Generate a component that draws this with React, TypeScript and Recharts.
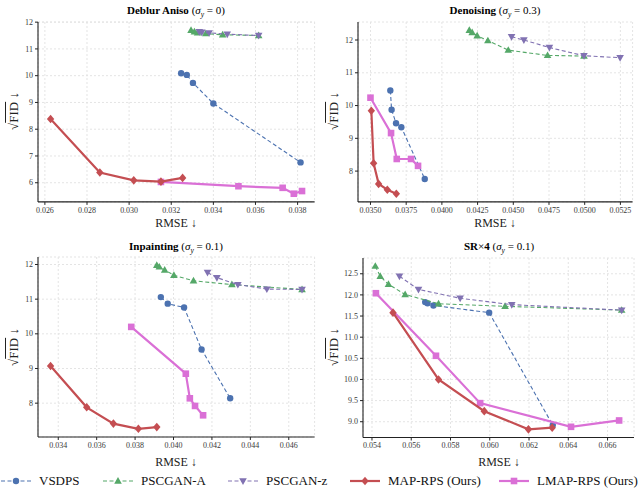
import React from 'react';
import {ScatterChart, Scatter, XAxis, YAxis, CartesianGrid} from 'recharts';

type Pair = [number, number];

// Deblur Aniso (sigma_y = 0)
const deblurVsdps: Pair[] = [[0.03247, 10.09], [0.03274, 10.03], [0.03303, 9.73], [0.0340, 8.96], [0.03814, 6.76]];
const deblurPscganA: Pair[] = [[0.03294, 11.70], [0.03310, 11.64], [0.03325, 11.60], [0.03364, 11.57], [0.03444, 11.53], [0.03615, 11.50]];
const deblurPscganZ: Pair[] = [[0.03333, 11.64], [0.03345, 11.62], [0.0338, 11.60], [0.03466, 11.55], [0.03615, 11.50]];
const deblurMap: Pair[] = [[0.02627, 8.38], [0.02861, 6.38], [0.03022, 6.09], [0.03151, 6.04], [0.03254, 6.18]];
const deblurLmap: Pair[] = [[0.03151, 6.03], [0.03519, 5.87], [0.03729, 5.81], [0.03782, 5.59], [0.03821, 5.69]];

// Denoising (sigma_y = 0.3)
const denoiseVsdps: Pair[] = [[0.03639, 10.46], [0.03648, 9.87], [0.03679, 9.46], [0.03716, 9.34], [0.0388, 7.76]];
const denoisePscganA: Pair[] = [[0.04192, 12.30], [0.04212, 12.23], [0.04247, 12.13], [0.04322, 11.98], [0.04465, 11.69], [0.0474, 11.53], [0.04995, 11.51]];
const denoisePscganZ: Pair[] = [[0.04488, 12.10], [0.04574, 12.00], [0.04753, 11.77], [0.04995, 11.52], [0.05248, 11.46]];
const denoiseMap: Pair[] = [[0.03506, 9.84], [0.03522, 8.24], [0.03557, 7.61], [0.03618, 7.43], [0.03681, 7.31]];
const denoiseLmap: Pair[] = [[0.0350, 10.24], [0.03644, 9.16], [0.03684, 8.37], [0.03784, 8.37], [0.03833, 8.16]];

// Inpainting (sigma_y = 0.1)
const inpaintVsdps: Pair[] = [[0.03934, 11.06], [0.0397, 10.87], [0.04055, 10.76], [0.04146, 9.55], [0.04295, 8.14]];
const inpaintPscganA: Pair[] = [[0.03913, 11.98], [0.03926, 11.93], [0.03954, 11.84], [0.04002, 11.69], [0.04104, 11.53], [0.04304, 11.42], [0.04669, 11.28]];
const inpaintPscganZ: Pair[] = [[0.04177, 11.77], [0.04226, 11.62], [0.04335, 11.42], [0.04486, 11.29], [0.04669, 11.28]];
const inpaintMap: Pair[] = [[0.0336, 9.07], [0.03548, 7.88], [0.03687, 7.41], [0.03817, 7.26], [0.03913, 7.31]];
const inpaintLmap: Pair[] = [[0.0378, 10.20], [0.04064, 8.85], [0.04085, 8.14], [0.04112, 7.92], [0.04154, 7.65]];

// SR x4 (sigma_y = 0.1)
const srVsdps: Pair[] = [[0.05671, 11.83], [0.05683, 11.80], [0.05713, 11.75], [0.05997, 11.58], [0.06321, 8.92]];
const srPscganA: Pair[] = [[0.05417, 12.68], [0.05442, 12.44], [0.05484, 12.25], [0.05569, 12.01], [0.05739, 11.79], [0.06078, 11.73], [0.06672, 11.64]];
const srPscganZ: Pair[] = [[0.0554, 12.44], [0.05637, 12.13], [0.05849, 11.92], [0.06112, 11.77], [0.06672, 11.64]];
const srMap: Pair[] = [[0.05507, 11.58], [0.05739, 10.0], [0.05972, 9.25], [0.06197, 8.82], [0.06318, 8.86]];
const srLmap: Pair[] = [[0.0542, 12.04], [0.05726, 10.56], [0.05951, 9.44], [0.06414, 8.88], [0.06659, 9.03]];

const deblurXTicks = [0.026, 0.028, 0.030, 0.032, 0.034, 0.036, 0.038];
const deblurYTicks = [6, 7, 8, 9, 10, 11, 12];
const denoiseXTicks = [0.035, 0.0375, 0.04, 0.0425, 0.045, 0.0475, 0.05, 0.0525];
const denoiseYTicks = [8, 9, 10, 11, 12];
const inpaintXTicks = [0.034, 0.036, 0.038, 0.04, 0.042, 0.044, 0.046];
const inpaintYTicks = [8, 9, 10, 11, 12];
const srXTicks = [0.054, 0.056, 0.058, 0.06, 0.062, 0.064, 0.066];
const srYTicks = [9, 9.5, 10, 10.5, 11, 11.5, 12, 12.5];

const methods = ['VSDPS', 'PSCGAN-A', 'PSCGAN-z', 'MAP-RPS (Ours)', 'LMAP-RPS (Ours)'];

const FONT = '"Liberation Serif", "DejaVu Serif", serif';
const Y_W = 36;
const X_H = 20;

const styles: Record<string, {color: string; kind: string; width: number; dash?: string}> = {
    'VSDPS': {color: '#4c72b0', kind: 'circle', width: 1.1, dash: '4 2.5'},
    'PSCGAN-A': {color: '#55a868', kind: 'up', width: 1.1, dash: '4 2.5'},
    'PSCGAN-z': {color: '#8172b2', kind: 'down', width: 1.1, dash: '4 2.5'},
    'MAP-RPS (Ours)': {color: '#c44e52', kind: 'diamond', width: 2.2},
    'LMAP-RPS (Ours)': {color: '#da70d6', kind: 'square', width: 2.2},
};

function markerSvg(kind: string, cx: number, cy: number, color: string) {
    switch (kind) {
        case 'circle':
            return <circle cx={cx} cy={cy} r={3.2} fill={color} />;
        case 'up':
            return <polygon points={`${cx},${cy - 4} ${cx - 3.8},${cy + 2.7} ${cx + 3.8},${cy + 2.7}`} fill={color} />;
        case 'down':
            return <polygon points={`${cx},${cy + 4} ${cx - 3.8},${cy - 2.7} ${cx + 3.8},${cy - 2.7}`} fill={color} />;
        case 'diamond':
            return <polygon points={`${cx},${cy - 4.3} ${cx + 3.7},${cy} ${cx},${cy + 4.3} ${cx - 3.7},${cy}`} fill={color} />;
        default:
            return <rect x={cx - 3.3} y={cy - 3.3} width={6.6} height={6.6} fill={color} />;
    }
}

const makeShape = (kind: string, color: string) => (props: any) => {
    const {cx, cy} = props;
    if (cx == null || cy == null) return <g />;
    return markerSvg(kind, cx, cy, color);
};

const xTick = (digits: number) => (props: any) => {
    const {x, y, payload} = props;
    return (
        <text x={x} y={y} dy='0.71em' textAnchor='middle' fontSize={8} fill='#3a3a3a' fontFamily={FONT}>
            {Number(payload.value).toFixed(digits)}
        </text>
    );
};

const yTick = (digits: number) => (props: any) => {
    const {x, y, payload} = props;
    return (
        <text x={x} y={y} dy='0.33em' textAnchor='end' fontSize={8} fill='#3a3a3a' fontFamily={FONT}>
            {Number(payload.value).toFixed(digits)}
        </text>
    );
};

function padded(vals: number[]): [number, number] {
    const lo = Math.min(...vals);
    const hi = Math.max(...vals);
    const m = (hi - lo) * 0.05;
    return [lo - m, hi + m];
}

interface PanelProps {
    left: number;
    top: number;
    w: number;
    h: number;
    series: Pair[][];
    xTicks: number[];
    yTicks: number[];
    xDigits: number;
    yDigits: number;
}

function Panel({left, top, w, h, series, xTicks, yTicks, xDigits, yDigits}: PanelProps) {
    const all = series.flat();
    const xDomain = padded(all.map((p) => p[0]));
    const yDomain = padded(all.map((p) => p[1]));
    // draw order: baselines first, LMAP under MAP
    const order = [0, 1, 2, 4, 3];
    return (
        <div style={{position: 'absolute', left: left - Y_W, top: top - 5}}>
            <ScatterChart width={Y_W + w + 5} height={5 + h + X_H} margin={{top: 5, right: 5, left: 0, bottom: 0}}>
                <CartesianGrid stroke='#e4e4e4' strokeDasharray='2 2' />
                <XAxis
                    type='number'
                    dataKey='x'
                    domain={xDomain}
                    ticks={xTicks}
                    interval={0}
                    allowDataOverflow
                    height={X_H}
                    tick={xTick(xDigits)}
                    tickSize={3}
                    tickMargin={2}
                    axisLine={{stroke: '#222', strokeWidth: 1.1}}
                    tickLine={{stroke: '#222'}}
                />
                <YAxis
                    type='number'
                    dataKey='y'
                    domain={yDomain}
                    ticks={yTicks}
                    interval={0}
                    allowDataOverflow
                    width={Y_W}
                    tick={yTick(yDigits)}
                    tickSize={3}
                    tickMargin={2}
                    axisLine={{stroke: '#222', strokeWidth: 1.1}}
                    tickLine={{stroke: '#222'}}
                />
                {order.map((i) => {
                    const st = styles[methods[i]];
                    return (
                        <Scatter
                            key={methods[i]}
                            name={methods[i]}
                            data={series[i].map(([x, y]) => ({x, y}))}
                            fill={st.color}
                            line={{stroke: st.color, strokeWidth: st.width, strokeDasharray: st.dash}}
                            lineType='joint'
                            shape={makeShape(st.kind, st.color)}
                            isAnimationActive={false}
                        />
                    );
                })}
            </ScatterChart>
        </div>
    );
}

function Title({cx, cy, name, sigma}: {cx: number; cy: number; name: React.ReactNode; sigma: string}) {
    return (
        <div style={{position: 'absolute', left: cx - 150, top: cy - 8, width: 300, textAlign: 'center', fontFamily: FONT, fontSize: 11, lineHeight: '16px', color: '#000'}}>
            <b>{name}</b>{' '}
            <span>(<i>σ</i><sub style={{fontSize: 7.5}}><i>y</i></sub> = {sigma})</span>
        </div>
    );
}

function XLabel({cx, cy}: {cx: number; cy: number}) {
    return (
        <div style={{position: 'absolute', left: cx - 50, top: cy - 8, width: 100, textAlign: 'center', fontFamily: FONT, fontSize: 12, lineHeight: '16px', color: '#222'}}>
            RMSE ↓
        </div>
    );
}

function YLabel({cx, cy}: {cx: number; cy: number}) {
    return (
        <div style={{position: 'absolute', left: cx, top: cy, transform: 'translate(-50%, -50%) rotate(-90deg)', whiteSpace: 'nowrap', fontFamily: FONT, fontSize: 13, lineHeight: '16px', color: '#222'}}>
            √<span style={{textDecoration: 'overline'}}>FID</span> ↓
        </div>
    );
}

const legendLefts = [1, 103, 228, 350, 499];

function Legend() {
    return (
        <>
            {methods.map((m, i) => {
                const st = styles[m];
                return (
                    <div key={m} style={{position: 'absolute', left: legendLefts[i], top: 473, display: 'flex', alignItems: 'center', height: 16}}>
                        <svg width={30} height={14}>
                            <line x1={0} y1={7} x2={30} y2={7} stroke={st.color} strokeWidth={st.width} strokeDasharray={st.dash} />
                            {markerSvg(st.kind, 15, 7, st.color)}
                        </svg>
                        <span style={{marginLeft: 8, fontFamily: FONT, fontSize: 13, color: '#111', whiteSpace: 'nowrap'}}>{m}</span>
                    </div>
                );
            })}
        </>
    );
}

export default function App() {
    return (
        <div style={{position: 'absolute', left: 0, top: 0, width: 639, height: 494, background: '#fff', overflow: 'hidden', fontFamily: FONT}}>
            <Title cx={176} cy={10} name='Deblur Aniso' sigma='0' />
            <Title cx={495} cy={10} name='Denoising' sigma='0.3' />
            <Title cx={176} cy={246} name='Inpainting' sigma='0.1' />
            <Title cx={499} cy={246} name={<span>SR<span style={{fontWeight: 400}}>×</span>4</span>} sigma='0.1' />

            <Panel left={37.7} top={21.7} w={276.6} h={179.9}
                series={[deblurVsdps, deblurPscganA, deblurPscganZ, deblurMap, deblurLmap]}
                xTicks={deblurXTicks} yTicks={deblurYTicks} xDigits={3} yDigits={0} />
            <Panel left={357.7} top={21.7} w={274.6} h={179.9}
                series={[denoiseVsdps, denoisePscganA, denoisePscganZ, denoiseMap, denoiseLmap]}
                xTicks={denoiseXTicks} yTicks={denoiseYTicks} xDigits={4} yDigits={0} />
            <Panel left={37.7} top={257} w={276.6} h={180}
                series={[inpaintVsdps, inpaintPscganA, inpaintPscganZ, inpaintMap, inpaintLmap]}
                xTicks={inpaintXTicks} yTicks={inpaintYTicks} xDigits={3} yDigits={0} />
            <Panel left={363.3} top={257.5} w={271} h={179.5}
                series={[srVsdps, srPscganA, srPscganZ, srMap, srLmap]}
                xTicks={srXTicks} yTicks={srYTicks} xDigits={3} yDigits={1} />

            <XLabel cx={176} cy={223} />
            <XLabel cx={495} cy={223} />
            <XLabel cx={176} cy={462} />
            <XLabel cx={499} cy={462} />

            <YLabel cx={14} cy={111} />
            <YLabel cx={334} cy={111} />
            <YLabel cx={14} cy={347} />
            <YLabel cx={334} cy={347} />

            <Legend />
        </div>
    );
}
